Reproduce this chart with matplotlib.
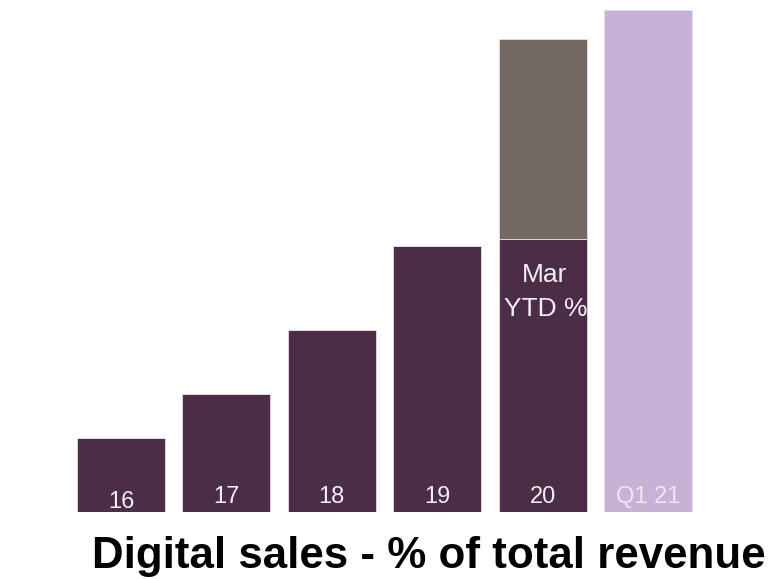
import matplotlib
matplotlib.use("Agg")
import matplotlib.pyplot as plt

plt.rcParams["font.family"] = ["Liberation Sans", "DejaVu Sans"]

# bar labels and heights (% of total revenue)
years = ["16", "17", "18", "19", "20", "Q1 21"]
digital = [7.4, 11.8, 18.2, 26.6, 27.3, 50.2]
mar_ytd_extra = [0, 0, 0, 0, 20.0, 0]   # stacked on top of FY20 bar

dark = "#4b2d47"
grey = "#736862"
lilac = "#c8b0d6"
colors = [dark] * 5 + [lilac]

fig = plt.figure(figsize=(7.7, 5.79), dpi=100)
ax = fig.add_axes([0, 67 / 579, 1, 512 / 579])

x = list(range(len(years)))
ax.bar(x, digital, width=0.835, color=colors, edgecolor="#e6dce6", linewidth=0.6)
ax.bar(x, mar_ytd_extra, bottom=digital, width=0.835, color=grey,
       edgecolor="#e6dce6", linewidth=0.6)

for i, lab in enumerate(years):
    col = "#eee6f0" if lab == "Q1 21" else "#f2eef2"
    yb = 0.45 if lab == "16" else 0.9
    ax.text(i, yb, lab, ha="center", va="baseline", fontsize=17, color=col)

ax.text(4.02, 23.0, "Mar", ha="center", va="baseline", fontsize=19, color="#f2eef2")
ax.text(4.03, 19.6, "YTD %", ha="center", va="baseline", fontsize=19, color="#f2eef2")

ax.set_xlim(-1.148, 6.158)
ax.set_ylim(0, 51.2)
ax.axis("off")

title = fig.text(428.5 / 770, 1 - 568 / 579, "Digital sales - % of total revenue",
                 ha="center", va="baseline", fontsize=30, fontweight="bold",
                 color="black")
# fit the title to its width in the original (about 673 px)
r = fig.canvas.get_renderer()
w = title.get_window_extent(r).width
title.set_fontsize(30 * 673 / w)

fig.savefig("out.png", dpi=100)
